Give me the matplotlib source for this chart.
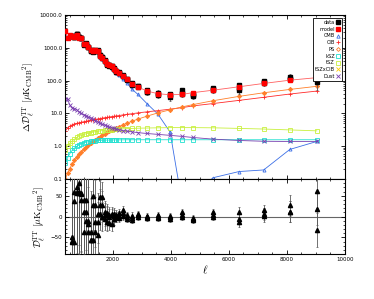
import numpy as np
import matplotlib
matplotlib.use('Agg')
import matplotlib.pyplot as plt
from matplotlib.lines import Line2D
from matplotlib.ticker import MultipleLocator, FixedLocator, FormatStrFormatter

# multipole bin centres
ell = [350, 430, 510, 590, 670, 750, 830, 910, 990, 1070, 1150, 1230, 1310, 1390,
       1470, 1550, 1630, 1710, 1790, 1870, 1950, 2030, 2110, 2200, 2330, 2480, 2650,
       2860, 3170, 3550, 3970, 4380, 4760, 5450, 6350, 7200, 8100, 9030]

# model components (uK^2)
cmb = [3300, 2000, 2500, 2300, 2100, 2500, 2000, 1900, 1250, 1300, 1050, 850, 760, 820,
       800, 540, 460, 380, 300, 270, 250, 210, 170, 150, 110, 85, 55,
       38, 20, 9.5, 2.7, 0.02, 0.03, 0.11, 0.17, 0.19, 0.8, 1.4]
model = [3330, 2030, 2525, 2320, 2120, 2520, 2020, 1920, 1270, 1320, 1070, 870, 780, 840,
         820, 560, 480, 400, 320, 290, 270, 230, 190, 170, 135, 110, 80,
         64, 48, 40, 37, 38, 43, 51, 65, 82, 103, 123]
cib = [2.9, 3.6, 4.1, 4.5, 4.8, 5.0, 5.2, 5.4, 5.6, 5.8, 6.0, 6.2, 6.4, 6.6,
       6.8, 7.0, 7.2, 7.4, 7.6, 7.8, 8.0, 8.2, 8.4, 8.6, 9.0, 9.4, 9.8,
       10.4, 11.2, 12.2, 13.5, 15, 17, 20, 25, 31, 39, 48]
ps = [0.10, 0.15, 0.21, 0.29, 0.37, 0.46, 0.57, 0.68, 0.81, 0.94, 1.09, 1.24, 1.41, 1.59,
      1.78, 1.97, 2.18, 2.40, 2.63, 2.87, 3.12, 3.39, 3.66, 3.98, 4.46, 5.05, 5.77,
      6.72, 8.26, 10.4, 12.9, 15.8, 18.6, 24.4, 33.1, 42.6, 53.9, 67]
ksz = [0.3, 0.45, 0.6, 0.75, 0.88, 1.0, 1.1, 1.2, 1.28, 1.33, 1.38, 1.42, 1.45, 1.48,
       1.5, 1.52, 1.53, 1.54, 1.55, 1.55, 1.56, 1.56, 1.57, 1.57, 1.57, 1.58, 1.58,
       1.58, 1.58, 1.58, 1.58, 1.58, 1.58, 1.58, 1.58, 1.58, 1.58, 1.58]
tsz = [0.75, 1.0, 1.25, 1.45, 1.65, 1.85, 2.0, 2.15, 2.3, 2.4, 2.5, 2.6, 2.7, 2.8,
       2.85, 2.95, 3.0, 3.05, 3.1, 3.15, 3.2, 3.25, 3.3, 3.35, 3.4, 3.45, 3.5,
       3.55, 3.6, 3.65, 3.7, 3.7, 3.7, 3.65, 3.5, 3.35, 3.15, 2.95]
tszcib = [0.010, 0.012, 0.014, 0.016, 0.018, 0.020, 0.021, 0.022, 0.023, 0.024, 0.025, 0.026,
          0.027, 0.028, 0.029, 0.030, 0.031, 0.032, 0.033, 0.034, 0.035, 0.036, 0.037, 0.038,
          0.039, 0.040, 0.041, 0.042, 0.044, 0.046, 0.048, 0.050, 0.052, 0.054, 0.056, 0.058,
          0.060, 0.062]
dust = [28, 27, 18, 15, 14, 13, 11, 10, 9.2, 8.5, 7.8, 7.2, 6.6, 6.0,
        5.5, 5.1, 4.7, 4.4, 4.1, 3.9, 3.7, 3.5, 3.4, 3.2, 3.0, 2.9, 2.75,
        2.6, 2.45, 2.3, 2.15, 2.0, 1.85, 1.65, 1.5, 1.42, 1.4, 1.4]

# residuals (data - model) for the three spectra, bins from ell=590 on
ell_data = ell[3:]
resid1 = [-49, -60, 72, 81, 57, -38, 11, -18, -57, 49, -38, -45, 7, 47, 5, -12, 0, 3,
          6, 4, 2, 15, 0, -3, 4, -2, 0, 2, 12, -6, 10, 10, 15, 27, 61]
resid2 = [-60, 37, 59, 57, 41, 41, -10, -38, -38, 27, -14, -14, 47, 27, -5, 3, -15, -18,
          -5, -2, 8, 2, -5, -8, 0, 2, -3, -6, 0, -8, 5, -6, 7, 12, 19]
resid3 = [-58, 59, 57, 60, 55, 11, 41, -10, -55, -57, 27, 7, 27, 0, 10, 8, 5, 6,
          2, 0, -3, 8, 3, 2, 6, -4, 3, 0, 3, -4, 0, -14, 2, 12, -32]
err = [200, 180, 160, 150, 140, 130, 120, 110, 100, 80, 60, 50, 40, 35, 28, 22, 18, 16,
       14, 12, 11, 10, 9, 8, 7, 7, 7, 7, 7, 7, 9, 12, 14, 25, 40]

plt.rcParams['mathtext.fontset'] = 'cm'

fig = plt.figure(figsize=(3.74, 2.99), dpi=100)
ax1 = fig.add_axes([0.174, 0.401, 0.748, 0.549])
ax2 = fig.add_axes([0.174, 0.150, 0.748, 0.251], sharex=ax1)

ms = 2.2
lw = 0.6
ebar_col = '0.35'

# upper panel: data points (model + residual)
model_d = np.array(model[3:])
for r in (resid1, resid2, resid3):
    ax1.errorbar(ell_data, model_d + np.array(r), yerr=err, fmt='s', color='black',
                 ms=2.6, ecolor=ebar_col, elinewidth=0.6, capsize=1.0, capthick=0.5, zorder=3)

ax1.plot(ell, model, '-', color='#ff6060', lw=lw, zorder=4)
ax1.plot(ell, model, 's', color='red', ms=2.6, zorder=4)

components = [
    (cmb, '^', '#3c6fe6', 'none'),
    (cib, '+', '#ff2a2a', None),
    (ps, 'D', '#ff7f2a', None),
    (ksz, 's', '#20e0d0', 'none'),
    (tsz, 's', '#c8f03c', 'none'),
    (tszcib, 'x', '#ffcc00', None),
    (dust, 'x', '#7a3fb0', None),
]
for vals, mk, col, mfc in components:
    kw = dict(color=col, marker=mk, ms=ms, lw=lw, mew=0.6)
    if mfc == 'none':
        kw['mfc'] = 'none'
    ax1.plot(ell, vals, **kw)

ax1.set_yscale('log')
ax1.set_ylim(0.1, 10000)
ax1.set_xlim(345, 10000)
ax1.yaxis.set_major_locator(FixedLocator([0.1, 1, 10, 100, 1000, 10000]))
ax1.yaxis.set_major_formatter(FormatStrFormatter('%.1f'))
ax1.set_ylabel(r'$\Delta\mathcal{D}_\ell^{\rm TT}\ [\mu{\rm K}_{\rm CMB}{}^2]$', fontsize=7, labelpad=2)
plt.setp(ax1.get_xticklabels(), visible=False)

# legend with markers to the right of the labels
handles = [
    Line2D([], [], ls='none', marker='s', color='black', ms=2.4),
    Line2D([], [], ls='none', marker='s', color='red', ms=2.4),
    Line2D([], [], ls='none', marker='^', color='#3c6fe6', mfc='none', ms=2.4, mew=0.6),
    Line2D([], [], ls='none', marker='+', color='#ff2a2a', ms=2.4, mew=0.6),
    Line2D([], [], ls='none', marker='D', color='#ff7f2a', mfc='none', ms=2.0, mew=0.6),
    Line2D([], [], ls='none', marker='s', color='#20e0d0', mfc='none', ms=2.4, mew=0.6),
    Line2D([], [], ls='none', marker='s', color='#c8f03c', mfc='none', ms=2.4, mew=0.6),
    Line2D([], [], ls='none', marker='x', color='#ffcc00', ms=2.4, mew=0.6),
    Line2D([], [], ls='none', marker='x', color='#7a3fb0', ms=2.4, mew=0.6),
]
labels = ['data', 'model', 'CMB', 'CIB', 'PS', 'kSZ', 'tSZ', 'tSZxCIB', 'Dust']
leg = ax1.legend(handles, labels, loc='upper right', markerfirst=False, fontsize=3.6,
                 handlelength=0.6, handletextpad=0.4, labelspacing=0.35,
                 borderpad=0.4, borderaxespad=0.6, fancybox=False, framealpha=1)
leg.get_frame().set_edgecolor('black')
leg.get_frame().set_linewidth(0.6)

# lower panel: residuals
for r in (resid1, resid2, resid3):
    ax2.errorbar(ell_data, r, yerr=err, fmt='^', color='black', ms=3.0,
                 ecolor=ebar_col, elinewidth=0.6, capsize=1.0, capthick=0.5, zorder=3)
ax2.axhline(0, color='0.4', lw=0.8, zorder=1)
ax2.set_ylim(-90, 90)
ax2.yaxis.set_major_locator(FixedLocator([-50, 0, 50]))
ax2.yaxis.set_minor_locator(MultipleLocator(10))
ax2.xaxis.set_major_locator(MultipleLocator(2000))
ax2.xaxis.set_minor_locator(MultipleLocator(500))
ax2.set_ylabel(r'$\mathcal{D}_\ell^{\rm TT}\ [\mu{\rm K}_{\rm CMB}{}^2]$', fontsize=7, labelpad=2)
ax2.set_xlabel(r'$\ell$', fontsize=8, labelpad=1)

for ax in (ax1, ax2):
    ax.tick_params(which='both', direction='in', top=True, right=True, labelsize=4, pad=2)
    ax.tick_params(which='major', length=3, width=0.6)
    ax.tick_params(which='minor', length=1.5, width=0.5)
    for s in ax.spines.values():
        s.set_linewidth(0.8)

fig.savefig('out.png', dpi=100)
